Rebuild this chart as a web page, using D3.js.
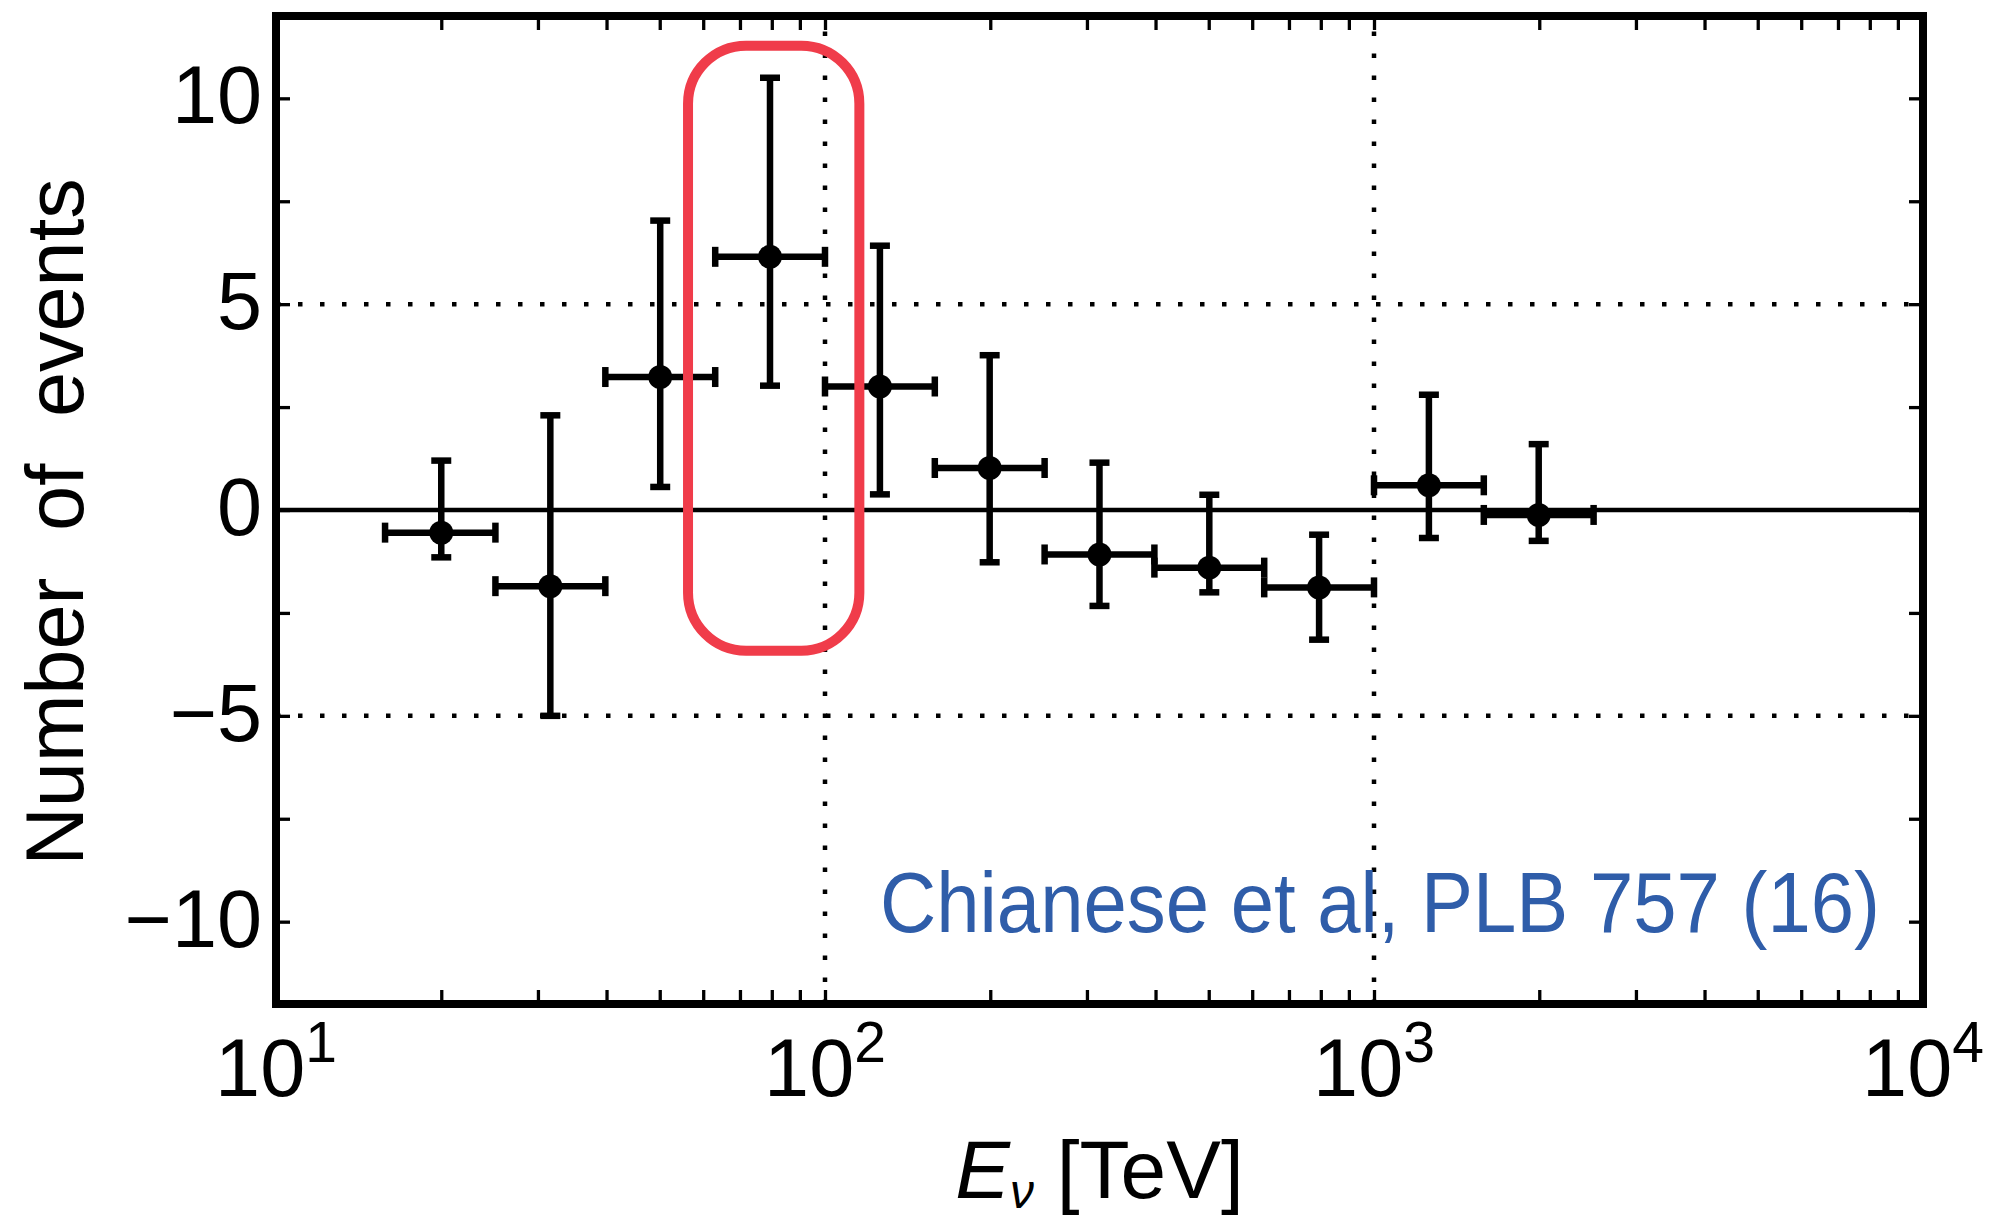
<!DOCTYPE html>
<html>
<head>
<meta charset="utf-8">
<script src="https://cdn.jsdelivr.net/npm/d3@7"></script>
<style>
  html, body { margin: 0; padding: 0; background: #fff; }
  svg { display: block; }
  text { font-family: "Liberation Sans", Arial, sans-serif; fill: #000; }
</style>
</head>
<body>
<div class="chart"></div>
<script>
// bins in neutrino energy (TeV), log-spaced
var energy   = [20.0, 31.6, 50.1, 79.4, 125.9, 199.5, 316.2, 501.2, 794.3, 1258.9, 1995.3];
var energyLo = [15.8, 25.1, 39.8, 63.1, 100.0, 158.5, 251.2, 398.1, 631.0, 1000.0, 1584.9];
var energyHi = [25.1, 39.8, 63.1, 100.0, 158.5, 251.2, 398.1, 631.0, 1000.0, 1584.9, 2511.9];

// excess events with error range
var events   = [-0.55, -1.85, 3.23, 6.15, 3.00, 1.02, -1.08, -1.40, -1.88, 0.60, -0.12];
var eventsHi = [1.20, 2.30, 7.03, 10.50, 6.42, 3.76, 1.15, 0.37, -0.60, 2.80, 1.60];
var eventsLo = [-1.15, -5.00, 0.56, 3.02, 0.38, -1.27, -2.33, -2.00, -3.15, -0.68, -0.75];

var yTicks = [-10, -7.5, -5, -2.5, 0, 2.5, 5, 7.5, 10];
var yLabels = [-10, -5, 0, 5, 10];
var xLabels = [10, 100, 1000, 10000];
var xExponents = ["1", "2", "3", "4"];
var xGuides = [100, 1000];
var yGuides = [-5, 5];

// highlighted region (hand drawn box)
var boxE = [56.3, 115.5];
var boxN = [-3.42, 11.28];

var citation = "Chianese et al, PLB 757 (16)";

var svgWidth = 1992;
var svgHeight = 1223;

var svg = d3.select(".chart")
  .append("svg")
  .attr("width", svgWidth)
  .attr("height", svgHeight);

var x = d3.scaleLog().domain([10, 10000]).range([276, 1923]);
var y = d3.scaleLinear().domain([-12, 12]).range([1004, 16]);

var rows = energy.map(function(e, i) {
  return { e: e, lo: energyLo[i], hi: energyHi[i], n: events[i], nHi: eventsHi[i], nLo: eventsLo[i] };
});

// dotted guides
svg.append("g").selectAll("line")
  .data(yGuides)
  .enter()
  .append("line")
  .attr("x1", x.range()[0]).attr("x2", x.range()[1])
  .attr("y1", d => y(d)).attr("y2", d => y(d))
  .attr("stroke", "#000").attr("stroke-width", 4.5)
  .attr("stroke-dasharray", "4.5,17.5");

svg.append("g").selectAll("line")
  .data(xGuides)
  .enter()
  .append("line")
  .attr("x1", d => x(d)).attr("x2", d => x(d))
  .attr("y1", y.range()[0]).attr("y2", y.range()[1])
  .attr("stroke", "#000").attr("stroke-width", 4.5)
  .attr("stroke-dasharray", "4.5,17.5");

// zero line
svg.append("line")
  .attr("x1", x.range()[0]).attr("x2", x.range()[1])
  .attr("y1", y(0)).attr("y2", y(0))
  .attr("stroke", "#000").attr("stroke-width", 4.5);

// error bars
var cap = 10;
var bars = svg.append("g").attr("stroke", "#000").attr("stroke-width", 6.5);

bars.selectAll(".hbar").data(rows).enter().append("line")
  .attr("x1", d => x(d.lo)).attr("x2", d => x(d.hi))
  .attr("y1", d => y(d.n)).attr("y2", d => y(d.n));
bars.selectAll(".hcapL").data(rows).enter().append("line")
  .attr("x1", d => x(d.lo)).attr("x2", d => x(d.lo))
  .attr("y1", d => y(d.n) - cap).attr("y2", d => y(d.n) + cap);
bars.selectAll(".hcapR").data(rows).enter().append("line")
  .attr("x1", d => x(d.hi)).attr("x2", d => x(d.hi))
  .attr("y1", d => y(d.n) - cap).attr("y2", d => y(d.n) + cap);
bars.selectAll(".vbar").data(rows).enter().append("line")
  .attr("x1", d => x(d.e)).attr("x2", d => x(d.e))
  .attr("y1", d => y(d.nHi)).attr("y2", d => y(d.nLo));
bars.selectAll(".vcapT").data(rows).enter().append("line")
  .attr("x1", d => x(d.e) - cap).attr("x2", d => x(d.e) + cap)
  .attr("y1", d => y(d.nHi)).attr("y2", d => y(d.nHi));
bars.selectAll(".vcapB").data(rows).enter().append("line")
  .attr("x1", d => x(d.e) - cap).attr("x2", d => x(d.e) + cap)
  .attr("y1", d => y(d.nLo)).attr("y2", d => y(d.nLo));

svg.append("g").selectAll("circle")
  .data(rows)
  .enter()
  .append("circle")
  .attr("cx", d => x(d.e))
  .attr("cy", d => y(d.n))
  .attr("r", 12)
  .attr("fill", "#000");

// ticks, all pointing inwards
function tickStyle(g) {
  g.select(".domain").remove();
  g.selectAll(".tick line").attr("stroke", "#000").attr("stroke-width", 3.3);
  g.selectAll(".tick text").remove();
}
svg.append("g")
  .attr("transform", `translate(0, ${y.range()[0]})`)
  .call(d3.axisBottom(x).tickValues(x.ticks()).tickSize(-14).tickFormat(""))
  .call(tickStyle);
svg.append("g")
  .attr("transform", `translate(0, ${y.range()[1]})`)
  .call(d3.axisTop(x).tickValues(x.ticks()).tickSize(-14).tickFormat(""))
  .call(tickStyle);
svg.append("g")
  .attr("transform", `translate(${x.range()[0]}, 0)`)
  .call(d3.axisLeft(y).tickValues(yTicks).tickSize(-14).tickFormat(""))
  .call(tickStyle);
svg.append("g")
  .attr("transform", `translate(${x.range()[1]}, 0)`)
  .call(d3.axisRight(y).tickValues(yTicks).tickSize(-14).tickFormat(""))
  .call(tickStyle);

// frame
svg.append("rect")
  .attr("x", x.range()[0]).attr("y", y.range()[1])
  .attr("width", x.range()[1] - x.range()[0])
  .attr("height", y.range()[0] - y.range()[1])
  .attr("fill", "none").attr("stroke", "#000").attr("stroke-width", 8);

// tick labels
svg.append("g").selectAll("text")
  .data(yLabels)
  .enter()
  .append("text")
  .attr("x", 262)
  .attr("y", d => y(d) + 25)
  .attr("text-anchor", "end")
  .attr("font-size", 81)
  .text(d => d < 0 ? "\u2212" + Math.abs(d) : d);

var xl = svg.append("g").selectAll("text")
  .data(xLabels)
  .enter()
  .append("text")
  .attr("x", d => x(d))
  .attr("y", 1096)
  .attr("text-anchor", "middle")
  .attr("font-size", 81);
xl.append("tspan").text("10");
xl.append("tspan").attr("font-size", 57).attr("dy", -34).text((d, i) => xExponents[i]);

// axis titles
var xt = svg.append("text")
  .attr("x", (x.range()[0] + x.range()[1]) / 2)
  .attr("y", 1198)
  .attr("text-anchor", "middle")
  .attr("font-size", 82);
xt.append("tspan").attr("font-style", "italic").text("E");
xt.append("tspan").attr("font-style", "italic").attr("font-size", 48).attr("dy", 10).text("\u03bd");
xt.append("tspan").attr("dy", -10).text(" [TeV]");

svg.append("text")
  .attr("transform", "translate(83, 522) rotate(-90)")
  .attr("text-anchor", "middle")
  .attr("font-size", 81)
  .attr("word-spacing", 24)
  .text("Number of events");

// red hand-drawn highlight
svg.append("rect")
  .attr("x", x(boxE[0])).attr("y", y(boxN[1]))
  .attr("width", x(boxE[1]) - x(boxE[0]))
  .attr("height", y(boxN[0]) - y(boxN[1]))
  .attr("rx", 58).attr("ry", 58)
  .attr("fill", "none")
  .attr("stroke", "#f03c4a")
  .attr("stroke-width", 10);

// citation
svg.append("text")
  .attr("x", 880)
  .attr("y", 932)
  .attr("font-family", "Lato, 'Open Sans', sans-serif")
  .attr("font-size", 86)
  .attr("textLength", 1000)
  .attr("lengthAdjust", "spacingAndGlyphs")
  .style("fill", "#2f5da9")
  .text(citation);
</script>
</body>
</html>
